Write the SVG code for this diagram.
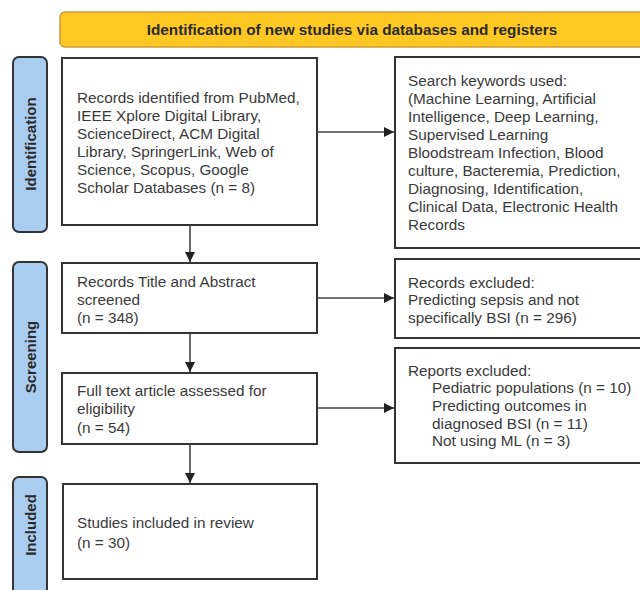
<svg xmlns="http://www.w3.org/2000/svg" width="640" height="590" viewBox="0 0 640 590">
<defs>
<marker id="arr" markerWidth="10" markerHeight="10" refX="10" refY="5" orient="auto" markerUnits="userSpaceOnUse">
<path d="M0,0 L10,5 L0,10 z" fill="#222"/>
</marker>
<style>
.box{fill:#fff;stroke:#333;stroke-width:2}
.side{fill:#A9CDF0;stroke:#333;stroke-width:2}
.t{font-family:"Liberation Sans",Arial,sans-serif;font-size:15.3px;fill:#3a3a3a}
.sl{font-family:"Liberation Sans",Arial,sans-serif;font-size:15px;font-weight:bold;fill:#2a2a2a}
.con{stroke:#444;stroke-width:1.6;fill:none}
</style>
</defs>
<rect width="640" height="590" fill="#fff"/>
<g id="header">
<rect x="60" y="12" width="600" height="35" rx="5" fill="#FFC822" stroke="#C99A3A" stroke-width="1.5"/>
<text class="sl" x="352" y="35" text-anchor="middle" style="font-size:15.3px">Identification of new studies via databases and registers</text>
</g>
<g id="lane-identification">
<rect class="side" x="13" y="57" width="34" height="175" rx="6"/>
<text class="sl" transform="translate(35.5,144) rotate(-90)" text-anchor="middle">Identification</text>
</g>
<g id="lane-screening">
<rect class="side" x="13" y="262" width="34" height="190" rx="6"/>
<text class="sl" transform="translate(35.5,357) rotate(-90)" text-anchor="middle">Screening</text>
</g>
<g id="lane-included">
<rect class="side" x="13" y="477" width="34" height="130" rx="6"/>
<text class="sl" transform="translate(35.5,525) rotate(-90)" text-anchor="middle">Included</text>
</g>
<g id="records-identified">
<rect class="box" x="62" y="58" width="255" height="167"/>
<text class="t" x="77" y="103">Records identified from PubMed,</text>
<text class="t" x="77" y="121">IEEE Xplore Digital Library,</text>
<text class="t" x="77" y="139">ScienceDirect, ACM Digital</text>
<text class="t" x="77" y="157">Library, SpringerLink, Web of</text>
<text class="t" x="77" y="175">Science, Scopus, Google</text>
<text class="t" x="77" y="193">Scholar Databases (n = 8)</text>
</g>
<g id="keywords">
<rect class="box" x="395" y="57" width="260" height="191"/>
<text class="t" x="408" y="86">Search keywords used:</text>
<text class="t" x="408" y="104">(Machine Learning, Artificial</text>
<text class="t" x="408" y="122">Intelligence, Deep Learning,</text>
<text class="t" x="408" y="140">Supervised Learning</text>
<text class="t" x="408" y="158">Bloodstream Infection, Blood</text>
<text class="t" x="408" y="176">culture, Bacteremia, Prediction,</text>
<text class="t" x="408" y="194">Diagnosing, Identification,</text>
<text class="t" x="408" y="212">Clinical Data, Electronic Health</text>
<text class="t" x="408" y="230">Records</text>
</g>
<g id="screened">
<rect class="box" x="62" y="263" width="255" height="70"/>
<text class="t" x="77" y="287">Records Title and Abstract</text>
<text class="t" x="77" y="305">screened</text>
<text class="t" x="77" y="323">(n = 348)</text>
</g>
<g id="records-excluded">
<rect class="box" x="395" y="259" width="260" height="79"/>
<text class="t" x="408" y="288">Records excluded:</text>
<text class="t" x="408" y="305">Predicting sepsis and not</text>
<text class="t" x="408" y="323">specifically BSI (n = 296)</text>
</g>
<g id="full-text">
<rect class="box" x="62" y="373" width="255" height="71"/>
<text class="t" x="77" y="396">Full text article assessed for</text>
<text class="t" x="77" y="414">eligibility</text>
<text class="t" x="77" y="433">(n = 54)</text>
</g>
<g id="reports-excluded">
<rect class="box" x="395" y="348" width="260" height="115"/>
<text class="t" x="408" y="376">Reports excluded:</text>
<text class="t" x="432" y="393">Pediatric populations (n = 10)</text>
<text class="t" x="432" y="411">Predicting outcomes in</text>
<text class="t" x="432" y="429">diagnosed BSI (n = 11)</text>
<text class="t" x="432" y="446">Not using ML (n = 3)</text>
</g>
<g id="included">
<rect class="box" x="63" y="484" width="254" height="95"/>
<text class="t" x="77" y="528">Studies included in review</text>
<text class="t" x="77" y="548">(n = 30)</text>
</g>
<g id="connectors">
<line class="con" x1="190" y1="225" x2="190" y2="262" marker-end="url(#arr)"/>
<line class="con" x1="190" y1="333" x2="190" y2="372" marker-end="url(#arr)"/>
<line class="con" x1="190" y1="444" x2="190" y2="483" marker-end="url(#arr)"/>
<line class="con" x1="317" y1="132" x2="394" y2="132" marker-end="url(#arr)"/>
<line class="con" x1="317" y1="298" x2="394" y2="298" marker-end="url(#arr)"/>
<line class="con" x1="317" y1="408" x2="394" y2="408" marker-end="url(#arr)"/>
</g>
</svg>
